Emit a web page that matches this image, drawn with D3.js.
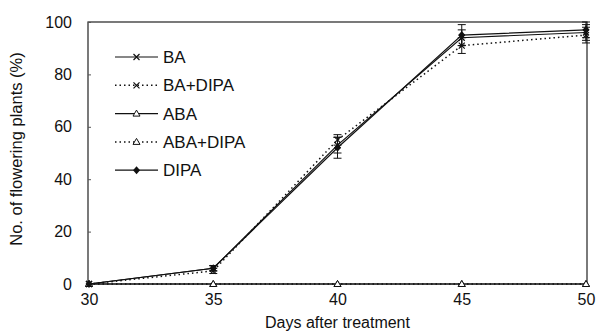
<!DOCTYPE html>
<html>
<head>
<meta charset="utf-8">
<script src="https://cdn.jsdelivr.net/npm/d3@7"></script>
<style>
  body { margin: 0; background: #fff; }
  text { font-family: Arial, "Liberation Sans", sans-serif; fill: #111; }
</style>
</head>
<body>
<div class="chart"></div>
<script>
// data
const days = [30, 35, 40, 45, 50];
const yTicks = [0, 20, 40, 60, 80, 100];

const seriesNames = ['BA', 'BA+DIPA', 'ABA', 'ABA+DIPA', 'DIPA'];
const baVals      = [0, 6, 53, 94, 96];
const baDipaVals  = [0, 5, 55, 91, 95];
const abaVals     = [0, 0, 0, 0, 0];
const abaDipaVals = [0, 0, 0, 0, 0];
const dipaVals    = [0, 6, 52, 95, 97];

const baErr      = [0, 1, 3, 3, 3];
const baDipaErr  = [0, 1, 2, 3, 3];
const dipaErr    = [0, 1, 4, 4, 3];

const margin = {top: 22, left: 88, right: 9, bottom: 50};
const width = 596 - margin.left - margin.right;
const height = 334 - margin.top - margin.bottom;

const series = [
  {name: seriesNames[0], vals: baVals, err: baErr, dash: null, mark: 'x'},
  {name: seriesNames[1], vals: baDipaVals, err: baDipaErr, dash: '1.5,3', mark: 'x'},
  {name: seriesNames[2], vals: abaVals, err: null, dash: null, mark: 'tri'},
  {name: seriesNames[3], vals: abaDipaVals, err: null, dash: '1.5,3', mark: 'tri'},
  {name: seriesNames[4], vals: dipaVals, err: dipaErr, dash: null, mark: 'dia'}
];

let svg = d3.select('.chart')
  .append('svg')
  .attr('width', 596)
  .attr('height', 334)
  .append('g')
  .attr('transform', `translate(${margin.left},${margin.top})`);

let xScale = d3.scaleLinear().domain([30, 50]).range([1, width - 1]);
let yScale = d3.scaleLinear().domain([0, 100]).range([height, 0]);

// frame
svg.append('rect')
  .attr('x', 0).attr('y', 0)
  .attr('width', width).attr('height', height)
  .attr('fill', 'none')
  .attr('stroke', '#222')
  .attr('stroke-width', 1.2);

// axes
svg.append('g')
  .attr('transform', `translate(0,${height})`)
  .call(d3.axisBottom(xScale).tickValues(days).tickSize(0).tickPadding(10))
  .call(g => g.select('.domain').remove())
  .selectAll('text')
  .attr('font-size', 16)
  .attr('fill', '#111');

svg.append('g')
  .call(d3.axisLeft(yScale).tickValues(yTicks).tickSizeInner(-3).tickSizeOuter(0).tickPadding(16))
  .call(g => g.select('.domain').remove())
  .call(g => g.selectAll('.tick line').attr('stroke', '#555'))
  .selectAll('text')
  .attr('font-size', 16)
  .attr('fill', '#111');

// axis titles
svg.append('text')
  .attr('x', width / 2)
  .attr('y', height + 44)
  .attr('text-anchor', 'middle')
  .attr('font-size', 16)
  .text('Days after treatment');

svg.append('text')
  .attr('transform', `translate(-66,${height / 2 - 4}) rotate(-90)`)
  .attr('text-anchor', 'middle')
  .attr('font-size', 16.5)
  .text('No. of flowering plants (%)');

function drawMark(g, type, x, y) {
  if (type === 'x') {
    g.append('path')
      .attr('d', `M${x - 3},${y - 3}L${x + 3},${y + 3}M${x - 3},${y + 3}L${x + 3},${y - 3}`)
      .attr('stroke', '#111').attr('stroke-width', 1.2);
  } else if (type === 'tri') {
    g.append('path')
      .attr('d', `M${x},${y - 3.5}L${x + 3.5},${y + 2.5}L${x - 3.5},${y + 2.5}Z`)
      .attr('fill', 'white').attr('stroke', '#111').attr('stroke-width', 1);
  } else {
    g.append('path')
      .attr('d', `M${x},${y - 4}L${x + 3.5},${y}L${x},${y + 4}L${x - 3.5},${y}Z`)
      .attr('fill', '#111');
  }
}

const line = d3.line()
  .x((d, i) => xScale(days[i]))
  .y(d => yScale(d));

series.forEach(s => {
  const g = svg.append('g');
  // error bars
  if (s.err) {
    s.vals.forEach((v, i) => {
      const e = s.err[i];
      if (!e) return;
      const x = xScale(days[i]);
      const y1 = yScale(v - e), y2 = yScale(v + e);
      g.append('path')
        .attr('d', `M${x},${y1}V${y2}M${x - 4},${y1}H${x + 4}M${x - 4},${y2}H${x + 4}`)
        .attr('stroke', '#111').attr('stroke-width', 1);
    });
  }
  g.append('path')
    .datum(s.vals)
    .attr('d', line)
    .attr('fill', 'none')
    .attr('stroke', '#111')
    .attr('stroke-width', s.dash ? 1.5 : 1.2)
    .attr('stroke-dasharray', s.dash);
  s.vals.forEach((v, i) => drawMark(g, s.mark, xScale(days[i]), yScale(v)));
});

// legend
const legend = svg.append('g').attr('transform', 'translate(27,35)');
series.forEach((s, i) => {
  const row = legend.append('g').attr('transform', `translate(0,${i * 28.3})`);
  row.append('line')
    .attr('x1', 0).attr('x2', 43)
    .attr('y1', 0).attr('y2', 0)
    .attr('stroke', '#111')
    .attr('stroke-width', s.dash ? 1.5 : 1.2)
    .attr('stroke-dasharray', s.dash);
  drawMark(row, s.mark, 21.5, 0);
  row.append('text')
    .attr('x', 48)
    .attr('y', 0)
    .attr('dy', '0.35em')
    .attr('font-size', 17)
    .text(s.name);
});
</script>
</body>
</html>
